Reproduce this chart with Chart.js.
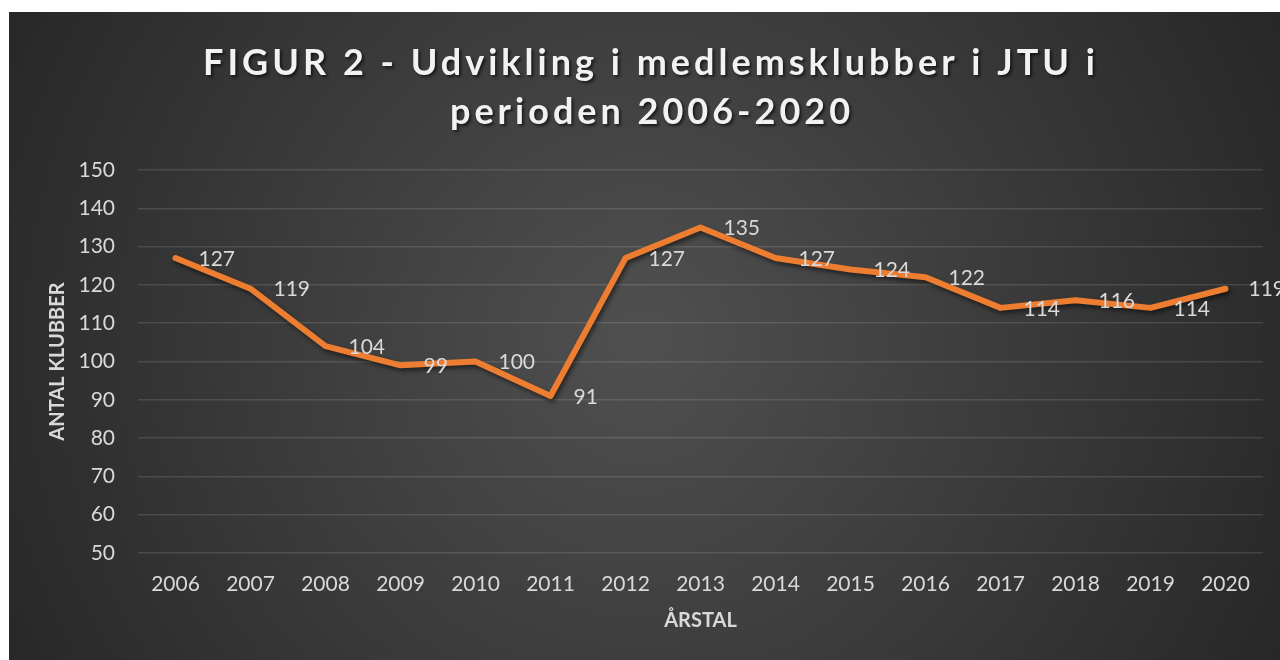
<!DOCTYPE html>
<html>
<head>
<meta charset="utf-8">
<script src="https://cdn.jsdelivr.net/npm/chart.js@4.4.1/dist/chart.umd.min.js"></script>
<style>
  html, body { margin: 0; padding: 0; background: #fff; overflow: hidden; }
  #wrap { position: relative; width: 1280px; height: 660px; }
</style>
</head>
<body>
<div id="wrap"><canvas id="myChart"></canvas></div>
<script>
const years = ['2006', '2007', '2008', '2009', '2010', '2011', '2012', '2013', '2014', '2015', '2016', '2017', '2018', '2019', '2020'];
const clubs = [127, 119, 104, 99, 100, 91, 127, 135, 127, 124, 122, 114, 116, 114, 119];
const titleLines = ['FIGUR 2 - Udvikling i medlemsklubber i JTU i', 'perioden 2006-2020'];
const yTitle = 'ANTAL KLUBBER';
const xTitle = 'ÅRSTAL';

const labelFont = '21px Lato';
const textColor = '#d9d9d9';

// dark panel with lighter middle, white margin top/left
const backdrop = {
  id: 'backdrop',
  beforeDraw(chart) {
    const ctx = chart.ctx;
    ctx.save();
    ctx.fillStyle = '#fff';
    ctx.fillRect(0, 0, chart.width, chart.height);
    const g = ctx.createRadialGradient(640, 340, 0, 640, 340, 720);
    g.addColorStop(0, '#505050');
    g.addColorStop(1, '#272727');
    ctx.fillStyle = g;
    ctx.fillRect(9, 12, chart.width - 9, chart.height - 12);
    ctx.restore();
  }
};

const bigTitle = {
  id: 'bigTitle',
  afterDraw(chart) {
    const ctx = chart.ctx;
    ctx.save();
    ctx.font = 'bold 36px Lato';
    ctx.letterSpacing = '4px';
    ctx.textAlign = 'center';
    ctx.textBaseline = 'middle';
    ctx.fillStyle = '#f2f2f2';
    ctx.shadowColor = 'rgba(0,0,0,0.6)';
    ctx.shadowOffsetX = 2;
    ctx.shadowOffsetY = 2;
    ctx.shadowBlur = 3;
    ctx.fillText(titleLines[0], 651, 63);
    ctx.fillText(titleLines[1], 652, 112);
    ctx.restore();
  }
};

// shadow under the line
const lineShadow = {
  id: 'lineShadow',
  beforeDatasetsDraw(chart) {
    const ctx = chart.ctx;
    ctx.save();
    ctx.shadowColor = 'rgba(0,0,0,0.5)';
    ctx.shadowOffsetX = 2;
    ctx.shadowOffsetY = 3;
    ctx.shadowBlur = 4;
  },
  afterDatasetsDraw(chart) {
    chart.ctx.restore();
  }
};

// value labels to the right of each point
const valueLabels = {
  id: 'valueLabels',
  afterDatasetsDraw(chart) {
    const ctx = chart.ctx;
    const meta = chart.getDatasetMeta(0);
    ctx.save();
    ctx.font = labelFont;
    ctx.fillStyle = textColor;
    ctx.textAlign = 'left';
    ctx.textBaseline = 'middle';
    meta.data.forEach((pt, i) => {
      ctx.fillText(String(clubs[i]), pt.x + 23, pt.y + 1);
    });
    ctx.restore();
  }
};

function mainEvent() {
  const target = document.querySelector('#myChart');
  return new Chart(target, {
    type: 'line',
    data: {
      labels: years,
      datasets: [{
        label: 'Antal klubber',
        data: clubs,
        borderColor: '#ed7d31',
        borderWidth: 6,
        borderJoinStyle: 'round',
        borderCapStyle: 'round',
        pointRadius: 0,
        pointHoverRadius: 0,
        tension: 0
      }]
    },
    options: {
      responsive: true,
      maintainAspectRatio: false,
      animation: false,
      layout: { padding: { top: 170, right: 17, left: 0, bottom: 0 } },
      plugins: {
        legend: { display: false },
        title: { display: false },
        tooltip: { enabled: false }
      },
      scales: {
        x: {
          offset: true,
          grid: { display: false, drawTicks: false },
          border: { display: false },
          ticks: { color: textColor, font: { family: 'Lato', size: 21 }, padding: 19, maxRotation: 0 },
          title: {
            display: true,
            text: xTitle,
            color: textColor,
            font: { family: 'Lato', size: 20, weight: 'bold' },
            padding: { top: 0, bottom: 27 }
          },
          afterFit(scale) { scale.height = 107; }
        },
        y: {
          min: 50,
          max: 150,
          ticks: { stepSize: 10, color: textColor, font: { family: 'Lato', size: 21 }, padding: 23 },
          grid: { color: 'rgba(255,255,255,0.12)', lineWidth: 1.5, drawTicks: false },
          border: { display: false },
          title: {
            display: true,
            text: yTitle,
            color: textColor,
            font: { family: 'Lato', size: 20, weight: 'bold' },
            padding: { top: 46, bottom: 0 }
          },
          afterFit(scale) { scale.width = 138; }
        }
      }
    },
    plugins: [backdrop, lineShadow, valueLabels, bigTitle]
  });
}

document.addEventListener('DOMContentLoaded', () => mainEvent());
</script>
</body>
</html>
